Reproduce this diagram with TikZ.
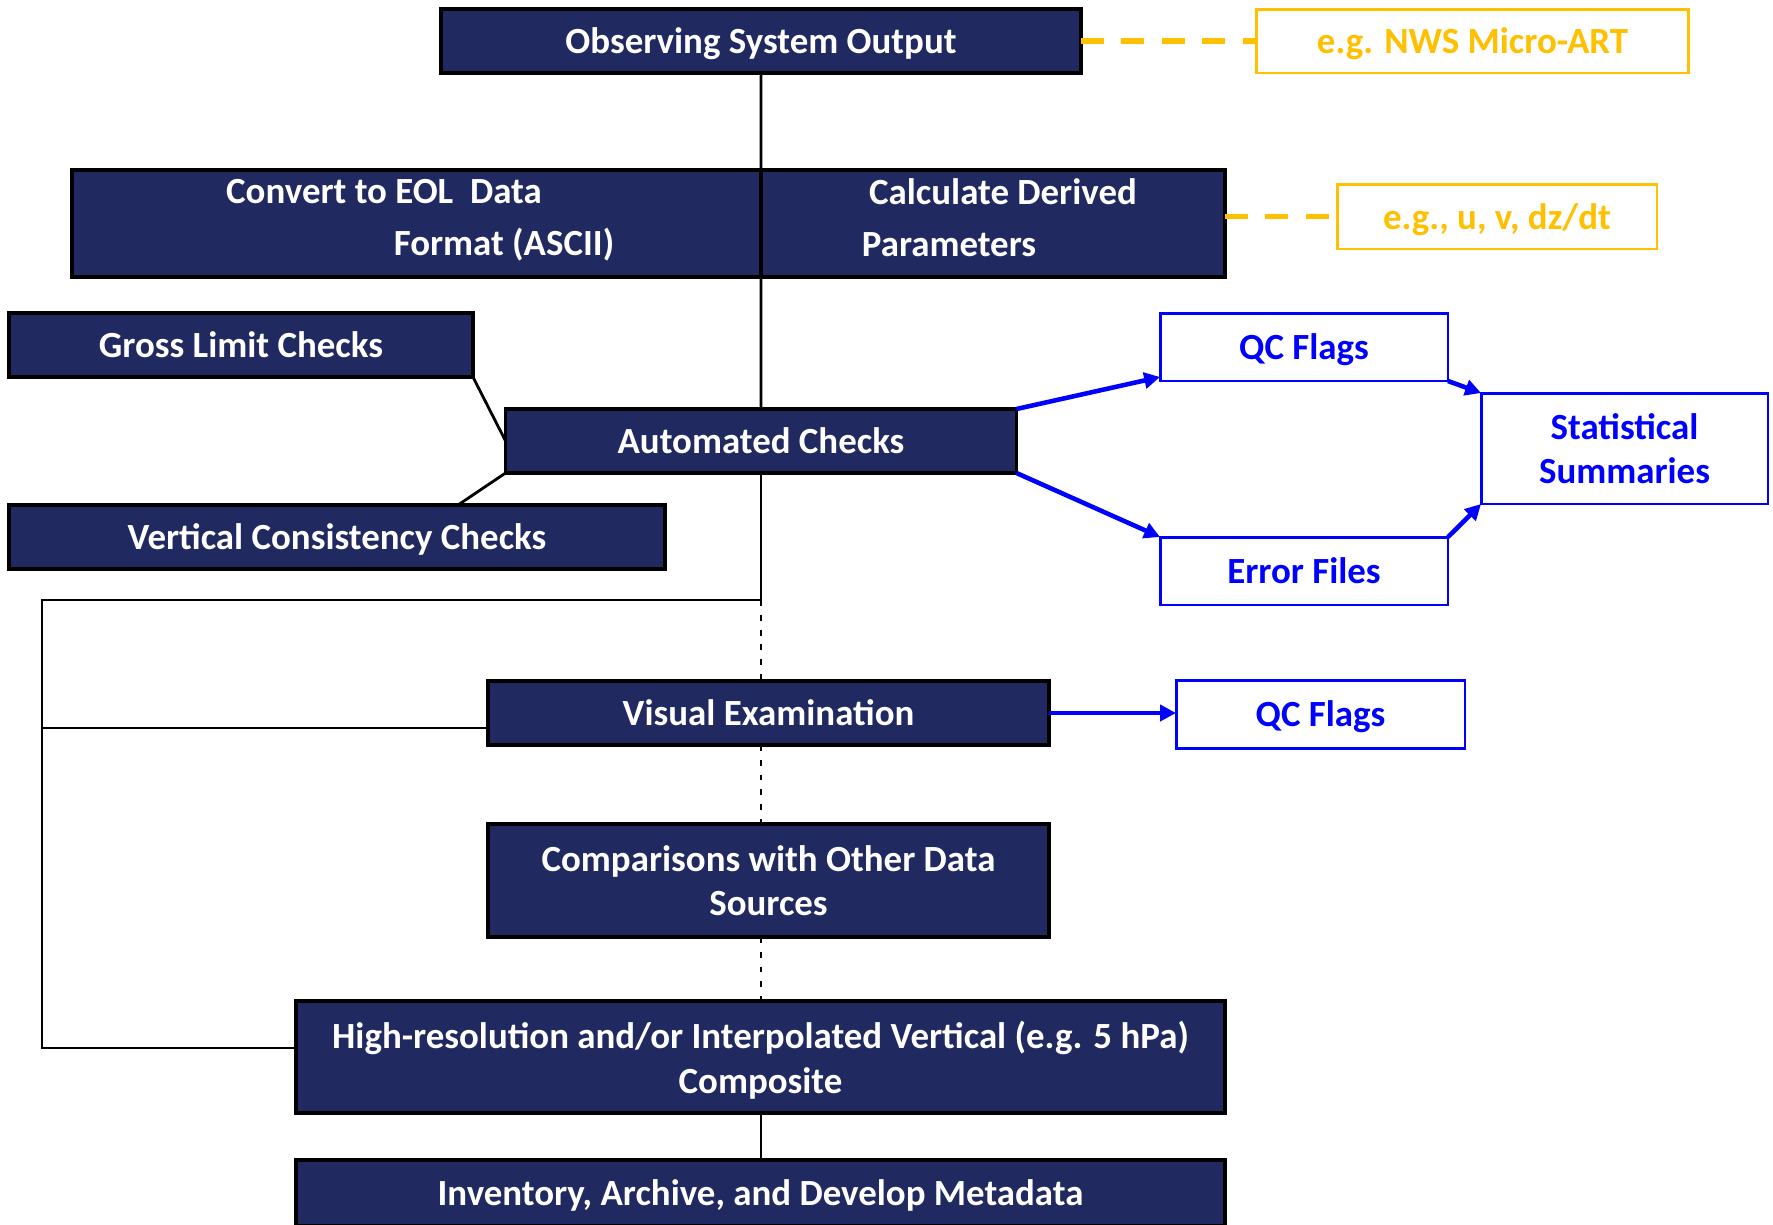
\documentclass[tikz,border=0pt]{standalone}
\usepackage{fontspec}
\setmainfont{Carlito}
\usepackage{tikz}
\usetikzlibrary{arrows.meta}

\definecolor{navy}{RGB}{32,41,96}
\definecolor{gold}{RGB}{255,192,0}
\definecolor{qcblue}{RGB}{0,0,255}

\begin{document}
\begin{tikzpicture}[
	x=0.02cm, y=-0.02cm,
	every node/.style={font=\fontsize{21}{25.5}\selectfont\bfseries, align=center, inner sep=0pt, outer sep=0pt},
	stepbox/.style={shape=rectangle, fill=navy, draw=black, line width=2.2pt, text=white, text depth=0pt},
	outbox/.style={shape=rectangle, fill=white, draw=qcblue, line width=1.7pt, text=qcblue, text depth=0pt},
	notebox/.style={shape=rectangle, fill=white, draw=gold, line width=1.7pt, text=gold, text depth=0pt},
	link/.style={line width=1.6pt},
	dotlink/.style={line width=1.6pt, dash pattern=on 3.4pt off 5pt},
	notelink/.style={line width=3.4pt, gold, dash pattern=on 13pt off 10pt},
	flow/.style={line width=2.6pt, qcblue, -{Triangle[length=9pt,width=9pt]}},
]
\useasboundingbox (0,0) rectangle (1773,1224);

% main column
\node[stepbox, minimum width=12.8cm, minimum height=1.28cm] (obs) at (761,41) {Observing System Output};
\node[stepbox, minimum width=13.78cm, minimum height=2.14cm] (convl) at (416.5,223.5) {};
\node[stepbox, minimum width=9.28cm, minimum height=2.14cm] (convr) at (993,223.5) {};
\node[text=white] (convt1) at (384,192) {Convert to EOL\ \ Data};
\node[text=white] (convt2) at (504,245) {Format (ASCII)};
\node[text=white] (derivt1) at (1003,192) {Calculate Derived};
\node[text=white] (derivt2) at (949,245) {Parameters};
\node[stepbox, minimum width=9.28cm, minimum height=1.28cm] (gross) at (241,345) {Gross Limit Checks};
\node[stepbox, minimum width=10.22cm, minimum height=1.28cm] (auto) at (761,441) {Automated Checks};
\node[stepbox, minimum width=13.12cm, minimum height=1.28cm] (vert) at (337,537) {Vertical Consistency Checks};
\node[stepbox, minimum width=11.22cm, minimum height=1.28cm] (visual) at (768.5,713) {Visual Examination};
\node[stepbox, minimum width=11.22cm, minimum height=2.26cm] (comp) at (768.5,880.5) {Comparisons with Other Data\\Sources};
\node[stepbox, minimum width=18.58cm, minimum height=2.24cm] (hires) at (760.5,1057) {High-resolution and/or Interpolated Vertical (e.g. 5 hPa)\\Composite};
\node[stepbox, minimum width=18.58cm, minimum height=1.32cm] (inv) at (760.5,1193) {Inventory, Archive, and Develop Metadata};

% examples
\node[notebox, minimum width=8.66cm, minimum height=1.28cm] (micro) at (1472.5,41) {e.g. NWS Micro-ART};
\node[notebox, minimum width=6.4cm, minimum height=1.3cm] (deriv) at (1497,216.5) {e.g., u, v, dz/dt};

% outputs
\node[outbox, minimum width=5.76cm, minimum height=1.36cm] (qca) at (1304,347) {QC Flags};
\node[outbox, minimum width=5.76cm, minimum height=1.36cm] (errf) at (1304,571) {Error Files};
\node[outbox, minimum width=5.74cm, minimum height=2.22cm] (stats) at (1624.5,448.5) {Statistical\\Summaries};
\node[outbox, minimum width=5.78cm, minimum height=1.36cm] (qcb) at (1320.5,714) {QC Flags};

\coordinate (brk) at (42,600);
\coordinate (vishook) at ([yshift=-0.3cm]visual.west);
\coordinate (hirhook) at ([yshift=0.18cm]hires.west);

% connectors
\draw[link] (obs.south) -- (convl.north east);
\draw[link] (convl.south east) -- (auto.north);
\draw[link] (gross.south east) -- (auto.west);
\draw[link] (auto.south west) -- ([xshift=-4.14cm]vert.north east);
\draw[link] (auto.south) -- (auto.south |- brk) -- (brk) -- (brk |- hirhook) -- (hirhook);
\draw[link] (brk |- vishook) -- (vishook);
\draw[dotlink] (auto.south |- brk) -- (auto.south |- visual.north);
\draw[dotlink] (auto.south |- visual.south) -- (auto.south |- comp.north);
\draw[dotlink] (auto.south |- comp.south) -- (auto.south |- hires.north);
\draw[link] (auto.south |- hires.south) -- (auto.south |- inv.north);

\draw[notelink] (obs.east) -- (micro.west);
\draw[notelink] (convr.east |- deriv.west) -- (deriv.west);

\draw[flow] (auto.north east) -- ([yshift=0.08cm]qca.south west);
\draw[flow] (auto.south east) -- (errf.north west);
\draw[flow] (qca.south east) -- (stats.north west);
\draw[flow] (errf.north east) -- (stats.south west);
\draw[flow] (visual.east) -- (visual.east -| qcb.west);
\end{tikzpicture}
\end{document}
